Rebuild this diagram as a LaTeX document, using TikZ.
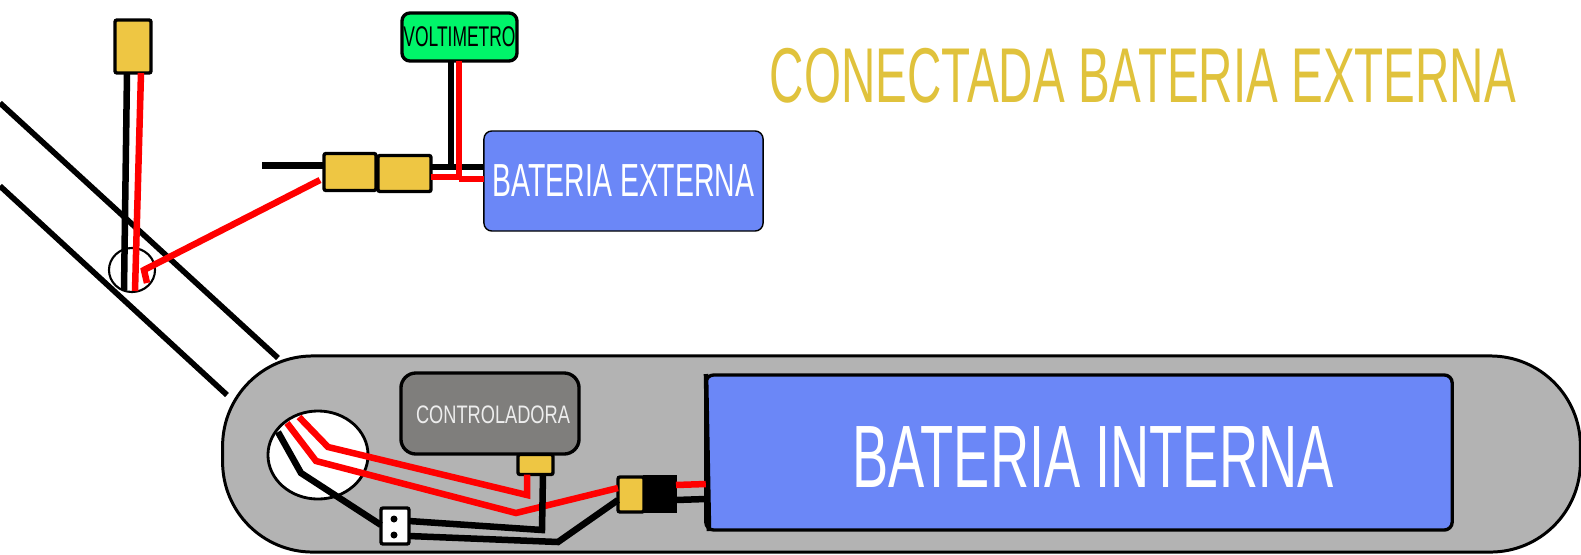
\documentclass[tikz,border=0pt]{standalone}
\usepackage{fontspec}
\newfontfamily\narrowfont[FakeStretch=0.612]{Liberation Sans}
\newfontfamily\ctrlfont[FakeStretch=0.72]{Liberation Sans}
\definecolor{plugyellow}{HTML}{EEC643}
\definecolor{batblue}{HTML}{6B87F7}
\definecolor{voltgreen}{HTML}{00F56A}
\definecolor{titlegold}{HTML}{E0C23C}
\definecolor{bodygrey}{HTML}{B3B3B3}
\definecolor{ctrlgrey}{HTML}{7F7E7C}
\tikzset{
    blackwire/.style={draw=black, line width=1.85pt},
    redwire/.style={draw=red, line width=1.85pt},
    tube/.style={draw=black, line width=1.6pt},
    plug/.style={draw=black, fill=plugyellow, line width=0.95pt, rounded corners=0.2mm, inner sep=0pt, outer sep=0pt},
    batbox/.style={draw=black, fill=batblue, line width=0.4pt, rounded corners=0.8mm, inner sep=0pt, outer sep=0pt, text=white},
    hole/.style={draw=black, fill=white, ellipse, inner sep=0pt, outer sep=0pt}
}
\usetikzlibrary{shapes.geometric}
\begin{document}
\begin{tikzpicture}[x=0.01cm, y=-0.01cm, font=\narrowfont]
    \useasboundingbox (0, 0) rectangle (1581, 554);

    % cable duct
    \coordinate (ductAstart) at (0, 103);
    \coordinate (ductAend) at (278, 358);
    \coordinate (ductBstart) at (0, 186);
    \coordinate (ductBend) at (227, 395);
    \draw[tube] (ductAstart) -- (ductAend);
    \draw[tube] (ductBstart) -- (ductBend);

    % outer part
    \node[hole, line width=0.6pt, minimum width=0.46cm, minimum height=0.44cm] (holeout) at (132, 270) {};
    \node[plug, minimum width=0.36cm, minimum height=0.53cm] (plugtop) at (133, 46.5) {};
    \coordinate (topblack) at (124, 290);
    \coordinate (topred) at (135, 291);
    \draw[blackwire] (plugtop.south -| 127, 0) -- (topblack);
    \draw[redwire] (plugtop.south -| 141, 0) -- (topred);

    \node[plug, minimum width=0.52cm, minimum height=0.37cm] (plugleft) at (350, 172) {};
    \node[plug, minimum width=0.53cm, minimum height=0.36cm] (plugright) at (404.5, 173.5) {};
    \node[draw=black, fill=voltgreen, line width=0.95pt, rounded corners=0.8mm, inner sep=0pt, outer sep=0pt,
        minimum width=1.15cm, minimum height=0.48cm, font=\narrowfont\fontsize{8.1}{8.1}\selectfont] (volt) at (459.5, 37) {VOLTIMETRO};
    \node[batbox, minimum width=2.79cm, minimum height=1cm, font=\narrowfont\fontsize{13.2}{13.2}\selectfont] (batext) at (623.5, 181) {BATERIA EXTERNA};

    \coordinate (hookend) at (147, 283);
    \coordinate (hook) at (144, 270);
    \coordinate (plugred) at (320, 180);
    \coordinate (stub) at (262, 165.5);
    \coordinate (voltblack) at (451, 167);
    \coordinate (voltred) at (459, 177);
    \draw[redwire] (hookend) -- (hook) -- (plugred);
    \draw[blackwire] (stub) -- (plugleft.west |- stub);
    \draw[blackwire] (plugright.east |- voltblack) -- (voltblack) -- (voltblack |- volt.south);
    \draw[blackwire] (voltblack) -- (batext.west |- voltblack);
    \draw[redwire] (plugright.east |- voltred) -- (voltred) -- (voltred |- volt.south);
    \draw[redwire] (voltred |- 0, 179) -- (batext.west |- 0, 179);

    % title
    \node[text=titlegold, inner sep=0pt, font=\narrowfont\fontsize{22.1}{22.1}\selectfont] (title) at (1143, 76) {CONECTADA BATERIA EXTERNA};

    % inner part
    \node[draw=black, fill=bodygrey, line width=0.85pt, rounded corners=0.9cm, inner sep=0pt, outer sep=0pt,
        minimum width=13.57cm, minimum height=1.96cm] (body) at (901.5, 454) {};
    \node[hole, line width=0.8pt, minimum width=1cm, minimum height=0.88cm] (holein) at (318, 455) {};
    \node[draw=black, fill=ctrlgrey, line width=0.95pt, rounded corners=1.5mm, inner sep=0pt, outer sep=0pt,
        minimum width=1.78cm, minimum height=0.81cm] (ctrl) at (490, 413.5) {};
    \node[text=white!93!black, inner sep=0pt, font=\ctrlfont\fontsize{7.2}{7.2}\selectfont] (ctrllabel) at (493, 415) {CONTROLADORA};
    \node[plug, minimum width=0.35cm, minimum height=0.2cm] (plugctrl) at (535.5, 464.5) {};
    \node[batbox, line width=0.95pt, minimum width=7.46cm, minimum height=1.55cm] (batint) at (1079, 452.5) {};
    \node[text=white, inner sep=0pt, font=\narrowfont\fontsize{25.2}{25.2}\selectfont] (batintlabel) at (1093, 457) {BATERIA INTERNA};
    \coordinate (batedgetop) at (706, 374);
    \coordinate (batedgebot) at (709, 531);
    \draw[draw=black, line width=1.3pt] (batedgetop) -- (batedgebot);

    \node[plug, minimum width=0.26cm, minimum height=0.35cm] (xtyellow) at (631, 494.5) {};
    \node[draw=black, fill=black, inner sep=0pt, outer sep=0pt, minimum width=0.32cm, minimum height=0.36cm] (xtblack) at (660, 494) {};
    \node[draw=black, fill=white, line width=0.95pt, rounded corners=0.2mm, inner sep=0pt, outer sep=0pt,
        minimum width=0.28cm, minimum height=0.36cm] (term) at (395, 526) {};
    \node[circle, fill=black, inner sep=0pt, minimum size=0.07cm] (pinA) at (394, 519) {};
    \node[circle, fill=black, inner sep=0pt, minimum size=0.07cm] (pinB) at (394, 535) {};

    \coordinate (redAstart) at (299, 417);
    \coordinate (redAbendone) at (328, 447);
    \coordinate (redAbendtwo) at (527, 495);
    \coordinate (redBstart) at (287, 423);
    \coordinate (redBbendone) at (316, 461);
    \coordinate (redBbendtwo) at (516, 513);
    \coordinate (blackstart) at (278, 432);
    \coordinate (blackbend) at (301, 473);
    \coordinate (ctrlbend) at (542, 530);
    \coordinate (xtbend) at (558, 542);
    \draw[redwire] (redAstart) -- (redAbendone) -- (redAbendtwo) -- (plugctrl.south -| redAbendtwo);
    \draw[redwire] (redBstart) -- (redBbendone) -- (redBbendtwo) -- (xtyellow.west |- 0, 488);
    \draw[blackwire] (blackstart) -- (blackbend) -- (term.west |- 0, 525);
    \draw[blackwire] (term.east |- 0, 521) -- (ctrlbend) -- (plugctrl.south -| 543, 0);
    \draw[blackwire] (term.east |- 0, 536) -- (xtbend) -- (xtyellow.west |- 0, 500);
    \draw[redwire] (xtblack.east |- 0, 485) -- (batint.west |- 0, 484);
    \draw[blackwire] (xtblack.east |- 0, 500) -- (batint.west |- 0, 499);
\end{tikzpicture}
\end{document}
